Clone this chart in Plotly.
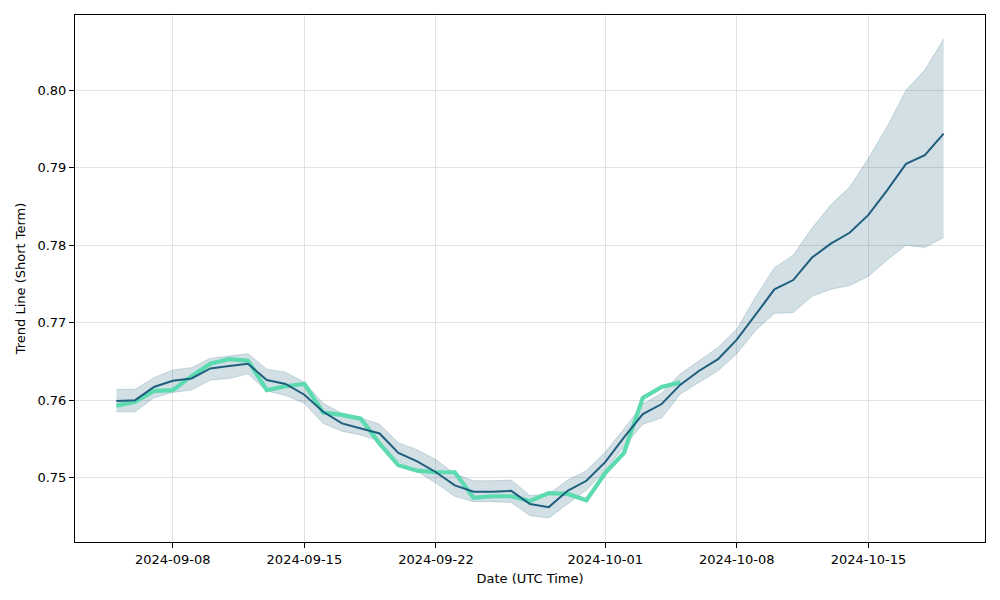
import pandas as pd
import plotly.graph_objects as go

dates = pd.date_range("2024-09-05", "2024-10-19", freq="D")

trend_mean = [0.7599, 0.7600, 0.7617, 0.7625, 0.7628, 0.7641, 0.7644, 0.7647, 0.7626, 0.7621,
              0.7607, 0.7585, 0.7570, 0.7563, 0.7557, 0.7532, 0.7521, 0.7507, 0.7490, 0.7482,
              0.7482, 0.7483, 0.7466, 0.7462, 0.7483, 0.7496, 0.7520, 0.7552, 0.7582, 0.7595,
              0.7620, 0.7638, 0.7653, 0.7678, 0.7710, 0.7743, 0.7755, 0.7784, 0.7802, 0.7816,
              0.7839, 0.7871, 0.7905, 0.7916, 0.7944]

band_upper = [0.7614, 0.7614, 0.7629, 0.7639, 0.7642, 0.7654, 0.7657, 0.7660, 0.7640, 0.7636,
              0.7623, 0.7596, 0.7583, 0.7577, 0.7569, 0.7545, 0.7536, 0.7523, 0.7505, 0.7496,
              0.7496, 0.7497, 0.7477, 0.7479, 0.7497, 0.7509, 0.7533, 0.7563, 0.7595, 0.7609,
              0.7634, 0.7651, 0.7668, 0.7692, 0.7733, 0.7771, 0.7787, 0.7822, 0.7852, 0.7875,
              0.7912, 0.7953, 0.8000, 0.8026, 0.8066]

band_lower = [0.7585, 0.7585, 0.7603, 0.7610, 0.7613, 0.7626, 0.7628, 0.7634, 0.7612, 0.7606,
              0.7596, 0.7570, 0.7560, 0.7555, 0.7547, 0.7521, 0.7508, 0.7493, 0.7476, 0.7469,
              0.7469, 0.7468, 0.7451, 0.7448, 0.7466, 0.7484, 0.7509, 0.7540, 0.7569, 0.7577,
              0.7608, 0.7623, 0.7638, 0.7660, 0.7690, 0.7712, 0.7713, 0.7734, 0.7743, 0.7748,
              0.7760, 0.7781, 0.7800, 0.7797, 0.7810]

actual = [0.7593, 0.7598, 0.7612, 0.7613, 0.7631, 0.7647, 0.7653, 0.7651, 0.7613, 0.7618,
          0.7621, 0.7584, 0.7581, 0.7576, 0.7544, 0.7516, 0.7509, 0.7507, 0.7507, 0.7474,
          0.7476, 0.7476, 0.7470, 0.7480, 0.7479, 0.7471, 0.7506, 0.7532, 0.7603, 0.7617,
          0.7623]
actual_dates = dates[:len(actual)]

x_tick_vals = ["2024-09-08", "2024-09-15", "2024-09-22", "2024-10-01", "2024-10-08", "2024-10-15"]
y_tick_vals = [0.75, 0.76, 0.77, 0.78, 0.79, 0.80]

band_color = "rgba(31,94,125,0.2)"
mean_color = "#1f5e7d"
actual_color = "#5cdbb0"

fig = go.Figure()
fig.add_trace(go.Scatter(x=dates, y=band_lower, mode="lines",
                         line=dict(color=band_color, width=1), showlegend=False, hoverinfo="skip"))
fig.add_trace(go.Scatter(x=dates, y=band_upper, mode="lines", fill="tonexty", fillcolor=band_color,
                         line=dict(color=band_color, width=1), showlegend=False, hoverinfo="skip"))
fig.add_trace(go.Scatter(x=actual_dates, y=actual, mode="lines",
                         line=dict(color=actual_color, width=4.2), showlegend=False))
fig.add_trace(go.Scatter(x=dates, y=trend_mean, mode="lines",
                         line=dict(color=mean_color, width=2), showlegend=False))

axis_font = dict(family="DejaVu Sans", size=13, color="black")
fig.update_layout(
    width=1000, height=600,
    margin=dict(l=75, r=15, t=15, b=58),
    plot_bgcolor="white", paper_bgcolor="white",
    font=axis_font,
)
fig.update_xaxes(
    range=["2024-09-02 19:12", "2024-10-21 04:48"],
    tickvals=x_tick_vals, tickformat="%Y-%m-%d",
    showgrid=True, gridcolor="rgba(176,176,176,0.35)", gridwidth=1,
    showline=True, linecolor="black", linewidth=1, mirror=True,
    ticks="outside", ticklen=5, tickcolor="black",
    title=dict(text="Date (UTC Time)", font=axis_font, standoff=8),
    tickfont=axis_font, zeroline=False,
)
fig.update_yaxes(
    range=[0.7417, 0.8097],
    tickvals=y_tick_vals, tickformat=".2f",
    showgrid=True, gridcolor="rgba(176,176,176,0.35)", gridwidth=1,
    showline=True, linecolor="black", linewidth=1, mirror=True,
    ticks="outside", ticklen=5, tickcolor="black",
    title=dict(text="Trend Line (Short Term)", font=axis_font, standoff=8),
    tickfont=axis_font, zeroline=False,
)

fig.write_html("out.html")
